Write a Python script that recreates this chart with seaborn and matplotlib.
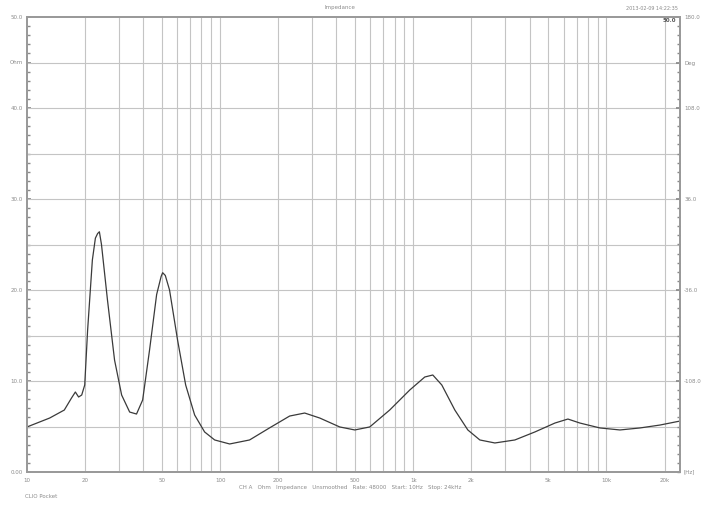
import numpy as np
import pandas as pd
import matplotlib
matplotlib.use("Agg")
import matplotlib.pyplot as plt
import seaborn as sns
from matplotlib.ticker import FixedLocator, NullFormatter, MultipleLocator

# --- data ---
freq_hz = [10.0, 13.1, 15.6, 17.0, 17.8, 18.5, 19.2, 19.9, 20.6, 21.8, 22.6, 23.2, 23.7,
           24.3, 26.1, 28.4, 30.9, 34.0, 36.9, 39.7, 43.1, 46.9, 49.5, 50.4, 52.0, 54.7,
           60.2, 66.3, 73.8, 83.1, 93.7, 112, 142, 180, 229, 274, 328, 416, 498, 595,
           755, 959, 1147, 1262, 1405, 1641, 1916, 2211, 2645, 3357, 4262, 5411, 6318,
           7291, 9255, 11750, 14915, 18930, 24040]
impedance_ohm = [4.95, 5.93, 6.81, 8.13, 8.79, 8.24, 8.46, 9.56, 15.6, 23.3, 25.7, 26.2, 26.4,
                 25.0, 18.9, 12.3, 8.46, 6.59, 6.37, 7.91, 13.4, 19.5, 21.5, 21.9, 21.6, 20.0,
                 14.5, 9.56, 6.26, 4.40, 3.52, 3.08, 3.52, 4.84, 6.15, 6.48, 5.93, 4.95, 4.62, 4.95,
                 6.81, 9.01, 10.44, 10.66, 9.56, 6.81, 4.62, 3.52, 3.19, 3.52, 4.40, 5.38, 5.82,
                 5.38, 4.84, 4.62, 4.84, 5.16, 5.60]

x_tick_values = [10, 20, 50, 100, 200, 500, 1000, 2000, 5000, 10000, 20000]
x_tick_labels = ["10", "20", "50", "100", "200", "500", "1k", "2k", "5k", "10k", "20k"]
left_tick_values = [0, 10, 20, 30, 40, 45, 50]
left_tick_labels = ["0.00", "10.0", "20.0", "30.0", "40.0", "Ohm", "50.0"]
right_tick_values = [-108, -36, 36, 108, 144, 180]
right_tick_labels = ["-108.0", "-36.0", "36.0", "108.0", "Deg", "180.0"]

df = pd.DataFrame({"Frequency": freq_hz, "Impedance": impedance_ohm})

sns.set_theme(style="white")
plt.rcParams["font.family"] = ["DejaVu Sans"]

fig = plt.figure(figsize=(7.05, 5.08), dpi=100)
ax = fig.add_axes([27 / 705, 1 - 472 / 508, (680 - 27) / 705, (472 - 17) / 508])

grid_c = "#c4c4c4"
frame_c = "#9a9a9a"
txt_c = "#8a8a8a"

sns.lineplot(data=df, x="Frequency", y="Impedance", ax=ax, color="#3a3a3a",
             linewidth=0.9, sort=False, estimator=None, zorder=5)

ax.set_xscale("log")
ax.set_xlim(10, 24040)
ax.set_ylim(0, 50)

# vertical grid at 2..9 x decade
vgrid = []
for dec in [10, 100, 1000, 10000]:
    for m in range(1, 10):
        v = dec * m
        if 10 < v < 24040:
            vgrid.append(v)
for v in vgrid:
    ax.axvline(v, color=grid_c, linewidth=0.8, zorder=1)
for h in np.arange(5, 50, 5):
    ax.axhline(h, color=grid_c, linewidth=0.8, zorder=1)

ax.xaxis.set_major_locator(FixedLocator(x_tick_values))
ax.set_xticklabels(x_tick_labels)
ax.xaxis.set_minor_locator(FixedLocator([]))
ax.xaxis.set_minor_formatter(NullFormatter())
ax.set_yticks(left_tick_values)
ax.set_yticklabels(left_tick_labels)
ax.yaxis.set_minor_locator(MultipleLocator(1))
ax.tick_params(axis="both", which="major", labelsize=4, colors=txt_c, length=3,
               direction="in", pad=3)
ax.tick_params(axis="y", which="minor", length=2, direction="in", color=txt_c)
ax.tick_params(axis="x", which="major", length=0, pad=4)
ax.set_xlabel("")
ax.set_ylabel("")

for s in ax.spines.values():
    s.set_color(frame_c)
    s.set_linewidth(1.4)

ax2 = ax.twinx()
ax2.set_ylim(-180, 180)
ax2.set_yticks(right_tick_values)
ax2.set_yticklabels(right_tick_labels)
ax2.yaxis.set_minor_locator(MultipleLocator(7.2))
ax2.tick_params(axis="y", which="major", labelsize=4, colors=txt_c, length=3,
                direction="in", pad=3)
ax2.tick_params(axis="y", which="minor", length=2, direction="in", color=txt_c)
for s in ax2.spines.values():
    s.set_color(frame_c)
    s.set_linewidth(1.4)

fig.text(684 / 705, 1 - 472 / 508, "[Hz]", fontsize=4, color=txt_c, ha="left", va="center")
fig.text(340 / 705, 1 - 8 / 508, "Impedance", fontsize=4, color=txt_c, ha="center", va="center")
fig.text(678 / 705, 1 - 8 / 508, "2013-02-09 14:22:35", fontsize=3.5, color=txt_c,
         ha="right", va="center")
fig.text(676 / 705, 1 - 21 / 508, "50.0", fontsize=4, color="#555555", ha="right",
         va="center", fontweight="bold")
fig.text(350 / 705, 1 - 487 / 508,
         "CH A   Ohm   Impedance   Unsmoothed   Rate: 48000   Start: 10Hz   Stop: 24kHz",
         fontsize=4, color=txt_c, ha="center", va="center")
fig.text(25 / 705, 1 - 496 / 508, "CLIO Pocket", fontsize=4, color=txt_c, ha="left", va="center")

fig.savefig("out.png", dpi=100, facecolor="white")
